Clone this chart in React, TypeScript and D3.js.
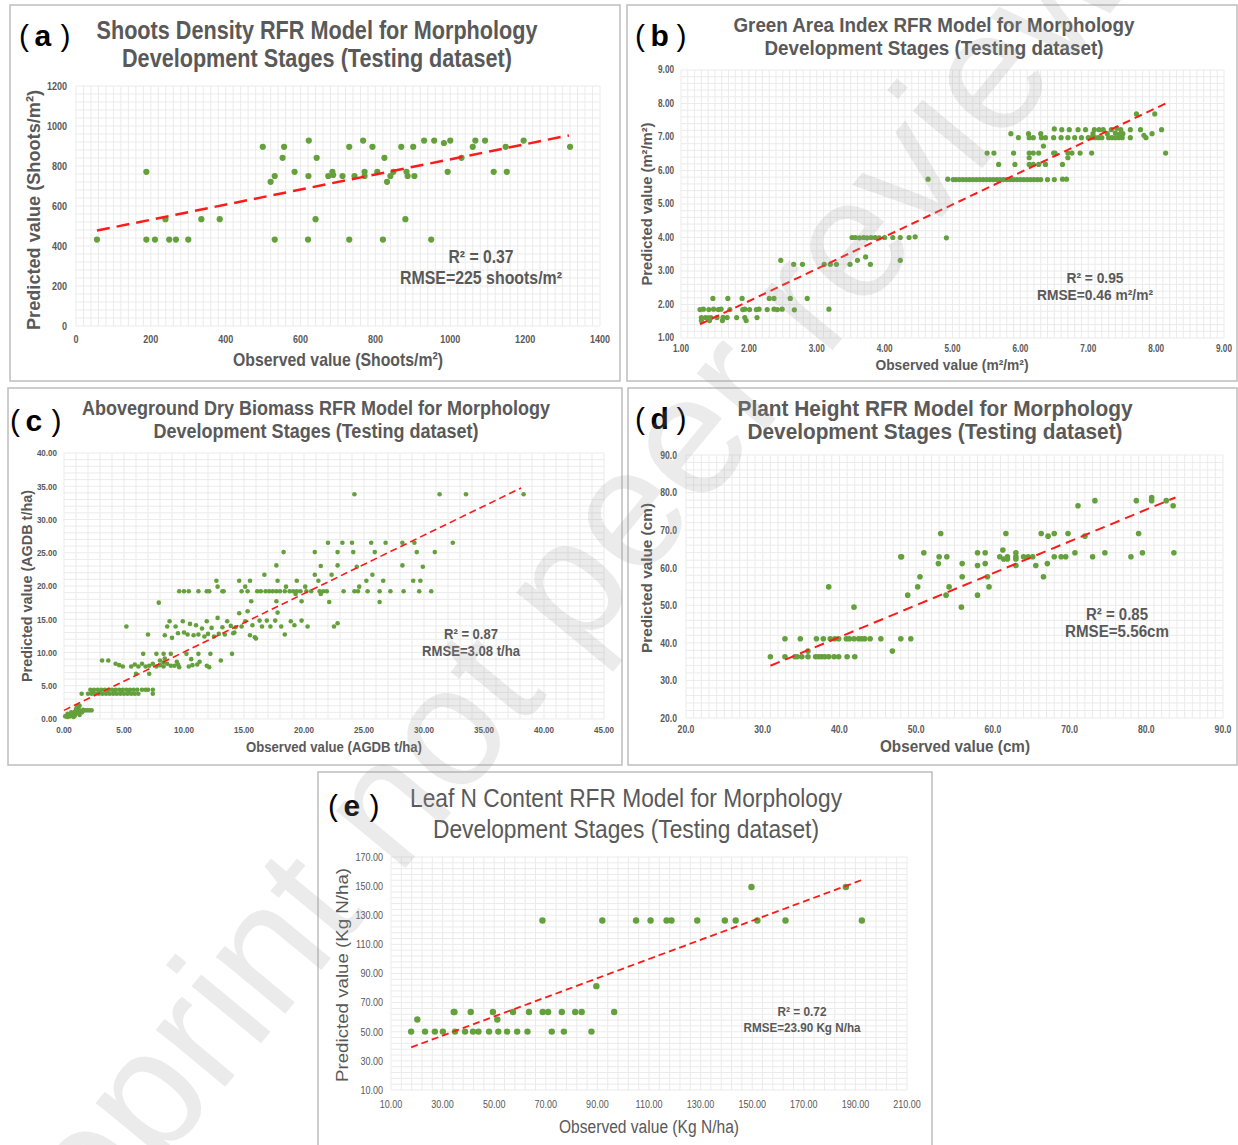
import React from 'react';
import * as d3 from 'd3';

type Pt = [number, number];

// (a) shoots density, observed vs predicted
const shootsPts: Pt[] = [
  [56, 432], [188, 771], [188, 432], [211, 432], [239, 534], [249, 432], [267, 432], [300, 432],
  [335, 534], [384, 534], [499, 896], [520, 721], [531, 750], [531, 432], [552, 841], [556, 896],
  [584, 771], [621, 750], [622, 927], [620, 432], [640, 534], [643, 841], [674, 750], [685, 771],
  [687, 755], [712, 750], [730, 896], [730, 432], [744, 750], [767, 927], [771, 771], [771, 750],
  [792, 896], [805, 771], [820, 432], [824, 841], [831, 721], [840, 750], [848, 771], [869, 896],
  [880, 534], [883, 771], [886, 750], [901, 896], [904, 750], [930, 927], [949, 432], [957, 927],
  [983, 915], [993, 771], [1000, 927], [1030, 841], [1060, 896], [1067, 927], [1093, 927],
  [1116, 771], [1148, 896], [1151, 771], [1196, 927], [1320, 896],
];
const shootsTrend: Pt[] = [[56, 477], [1317, 953]];
const shootsXTicks = [0, 200, 400, 600, 800, 1000, 1200, 1400];
const shootsYTicks = [0, 200, 400, 600, 800, 1000, 1200];

// (b) green area index
const gaiPts: Pt[] = [
  [1.28, 1.85], [1.33, 1.86], [1.41, 1.85], [1.48, 1.86], [1.55, 1.85], [1.59, 1.86], [1.72, 1.85],
  [1.91, 1.85], [1.94, 1.86], [2.01, 1.85], [2.11, 1.85], [2.15, 1.86], [2.27, 1.85], [2.37, 1.86],
  [2.42, 1.85], [2.49, 1.86], [2.67, 1.84], [3.18, 1.86],
  [1.30, 1.61], [1.36, 1.61], [1.44, 1.61], [1.53, 1.61], [1.68, 1.61], [1.82, 1.61], [1.94, 1.61],
  [2.12, 1.61], [1.40, 1.60], [1.62, 1.62],
  [1.30, 1.52], [1.42, 1.52], [1.61, 1.52], [1.96, 1.52],
  [1.47, 2.18], [1.69, 2.18], [1.90, 2.18], [2.30, 2.18], [2.37, 2.18], [2.61, 2.18], [2.86, 2.18],
  [2.47, 3.32], [4.23, 3.32], [3.60, 3.32], [2.66, 3.20], [2.79, 3.20], [3.11, 3.20], [3.20, 3.20],
  [3.29, 3.20], [3.49, 3.20], [3.79, 3.20], [3.72, 3.42],
  [3.52, 4.0], [3.57, 4.0], [3.63, 3.99], [3.69, 4.0], [3.74, 3.99], [3.80, 4.0], [3.86, 4.0],
  [3.92, 3.99], [4.00, 4.0], [4.12, 4.0], [4.23, 4.0], [4.36, 4.0], [4.45, 4.02], [4.91, 3.99],
  [4.64, 5.74], [4.93, 5.74], [5.01, 5.73], [5.05, 5.73], [5.10, 5.73], [5.15, 5.73], [5.20, 5.73],
  [5.25, 5.73], [5.30, 5.73], [5.35, 5.73], [5.40, 5.73], [5.45, 5.73], [5.50, 5.73], [5.55, 5.73],
  [5.60, 5.73], [5.65, 5.73], [5.70, 5.73], [5.75, 5.73], [5.80, 5.73], [5.85, 5.73], [5.90, 5.73],
  [5.95, 5.73], [6.00, 5.73], [6.05, 5.73], [6.10, 5.73], [6.15, 5.73], [6.20, 5.73], [6.25, 5.73],
  [6.30, 5.73], [6.40, 5.73], [6.50, 5.73], [6.62, 5.74], [6.68, 5.74],
  [5.68, 6.18], [5.92, 6.18], [6.13, 6.18], [6.19, 6.18], [6.27, 6.18], [6.37, 6.18], [6.62, 6.18],
  [5.51, 6.52], [5.61, 6.52], [5.90, 6.52], [6.13, 6.52], [6.19, 6.52], [6.27, 6.52], [6.49, 6.52],
  [6.51, 6.52], [6.70, 6.52], [6.76, 6.52], [6.88, 6.52], [7.05, 6.52], [8.14, 6.52],
  [6.13, 6.38], [6.70, 6.38], [6.34, 6.73],
  [5.97, 6.98], [6.13, 6.98], [6.19, 6.98], [6.31, 6.98], [6.37, 6.98], [6.49, 6.98], [6.60, 6.98],
  [6.70, 6.98], [6.80, 6.98], [6.90, 6.98], [7.00, 6.98], [7.05, 6.98], [7.10, 6.98], [7.15, 6.98],
  [7.20, 6.98], [7.30, 6.98], [7.35, 6.98], [7.40, 6.98], [7.45, 6.98], [7.50, 6.98], [7.62, 6.98],
  [7.85, 6.98], [7.82, 7.05],
  [5.86, 7.10], [6.12, 7.10], [6.30, 7.10], [7.07, 7.10], [7.28, 7.10], [7.51, 7.10], [7.94, 7.10],
  [7.40, 7.12], [7.46, 7.08],
  [6.50, 7.24], [6.61, 7.22], [6.72, 7.22], [6.85, 7.22], [6.96, 7.22], [7.09, 7.22], [7.16, 7.22],
  [7.22, 7.22], [7.34, 7.22], [7.48, 7.22], [7.62, 7.22], [7.77, 7.22], [8.08, 7.22], [7.42, 7.26],
  [7.71, 7.69], [7.98, 7.69],
];
const gaiTrend: Pt[] = [[1.28, 1.41], [8.15, 8.01]];
const gaiTicks = [1, 2, 3, 4, 5, 6, 7, 8, 9];

// (c) aboveground dry biomass
const agdbPts: Pt[] = [
  [0.1, 0.4], [0.2, 0.5], [0.3, 0.3], [0.4, 0.6], [0.5, 0.4], [0.6, 0.7], [0.7, 0.5], [0.8, 0.9],
  [0.9, 1.1], [1.0, 0.8], [1.1, 1.3], [1.2, 1.6], [1.3, 2.0], [1.1, 1.9], [1.4, 1.2], [1.5, 1.0],
  [1.6, 1.4], [1.7, 1.3], [1.9, 1.3], [2.1, 1.3], [2.3, 1.3], [0.9, 0.5], [1.2, 0.9], [1.0, 1.5],
  [0.6, 1.0], [0.3, 0.8], [1.3, 0.6], [0.8, 0.3], [1.47, 3.8],
  [2.0, 3.8], [2.3, 3.8], [2.6, 3.8], [2.9, 3.8], [3.2, 3.8], [3.5, 3.8], [3.8, 3.8], [4.1, 3.8],
  [4.4, 3.8], [4.7, 3.8], [5.0, 3.8], [5.3, 3.8], [5.6, 3.8], [5.9, 3.8], [6.2, 3.8], [7.4, 3.8],
  [2.2, 4.4], [2.5, 4.4], [2.8, 4.4], [3.1, 4.4], [3.4, 4.4], [3.7, 4.4], [4.0, 4.4], [4.3, 4.4],
  [4.6, 4.4], [4.9, 4.4], [5.2, 4.4], [5.5, 4.4], [5.8, 4.4], [6.1, 4.4], [6.5, 4.4], [6.8, 4.4],
  [7.0, 4.4], [7.4, 4.4], [2.4, 4.1], [3.0, 4.1], [3.6, 4.1], [4.2, 4.1], [4.8, 4.1], [5.4, 4.1],
  [3.17, 8.8], [3.69, 8.8], [13.07, 8.8],
  [4.3, 8.3], [4.6, 8.1], [4.9, 7.9], [5.6, 7.9], [5.9, 8.2], [6.2, 7.9], [6.5, 8.3], [6.8, 7.9],
  [7.1, 8.0], [7.4, 8.3], [7.7, 7.9], [8.0, 8.1], [8.3, 7.9], [8.6, 8.3], [8.9, 8.0], [9.2, 8.0],
  [9.5, 8.2], [10.4, 7.9], [10.7, 8.1], [11.1, 8.2], [11.9, 8.0], [12.1, 7.8], [6.0, 6.8], [7.1, 6.8],
  [8.0, 8.8], [8.3, 8.5], [9.4, 8.6], [9.6, 7.8],
  [6.6, 9.8], [7.7, 9.8], [8.4, 9.1], [8.3, 9.8], [8.9, 9.8], [10.2, 9.8], [11.2, 9.8], [12.2, 9.8],
  [14.0, 9.8], [10.6, 9.0], [11.3, 8.6],
  [5.2, 13.9], [7.0, 12.7], [7.9, 17.5],
  [8.4, 12.6], [8.6, 13.9], [8.8, 14.7], [9.0, 12.2], [9.3, 13.9], [9.5, 12.9], [9.9, 14.7],
  [10.0, 13.0], [10.3, 12.7], [10.5, 14.3], [10.8, 12.6], [11.0, 14.1], [11.2, 12.7], [11.5, 13.6],
  [11.7, 12.4], [11.9, 14.7], [12.0, 12.8], [12.3, 13.7], [12.5, 12.4], [12.8, 15.2], [12.9, 12.8],
  [13.2, 13.8], [13.4, 12.7], [13.6, 14.7], [13.9, 14.0], [14.1, 12.9], [14.3, 13.8], [14.6, 15.9],
  [14.8, 13.9], [15.1, 14.7], [15.3, 16.2], [15.5, 12.6], [15.7, 14.1], [16.0, 12.1], [16.3, 14.8],
  [16.5, 13.9], [16.9, 14.8], [17.2, 13.9], [17.6, 14.8], [17.8, 16.0], [18.1, 13.9], [18.4, 12.7],
  [18.9, 14.7], [19.2, 14.1], [19.8, 14.8], [20.3, 13.9], [22.5, 13.9], [22.8, 14.4], [14.2, 13.0],
  [15.9, 12.3],
  [9.6, 19.2], [10.0, 19.2], [10.4, 19.2], [11.2, 19.2], [11.9, 19.2], [12.1, 19.2], [13.3, 19.2],
  [14.8, 19.2], [15.3, 19.2], [16.1, 19.2], [16.4, 19.2], [16.8, 19.2], [17.1, 19.2], [17.4, 19.2],
  [17.7, 19.2], [18.0, 19.2], [18.4, 19.2], [18.8, 19.2], [19.1, 19.2], [19.4, 19.2], [19.7, 19.2],
  [20.2, 19.2], [20.6, 19.2], [21.3, 19.2], [21.6, 19.2], [21.9, 19.2], [23.3, 19.2], [24.2, 19.2],
  [24.5, 19.2], [25.3, 19.2], [26.3, 19.2], [27.2, 19.2], [28.3, 19.2], [29.6, 19.2], [30.6, 19.2],
  [12.8, 19.9], [15.1, 19.9], [18.5, 19.9], [19.3, 18.8], [20.1, 19.9], [21.4, 18.8], [24.6, 19.9],
  [15.6, 17.7], [17.7, 17.7], [19.8, 17.7], [22.1, 17.6], [26.3, 17.6],
  [12.7, 20.8], [14.6, 20.8], [15.5, 20.8], [17.8, 20.8], [19.4, 20.8], [21.2, 20.8], [25.2, 20.8],
  [26.6, 20.8], [29.1, 20.8], [29.7, 20.8], [13.2, 19.2],
  [16.7, 21.7], [20.9, 21.7], [22.3, 21.7], [25.7, 21.7],
  [17.7, 23.1], [21.4, 23.0], [22.8, 23.1], [24.4, 22.9], [28.2, 23.1], [29.9, 22.9],
  [18.3, 25.1], [20.9, 25.1], [22.8, 25.1], [24.1, 25.1], [25.9, 25.1], [29.4, 25.1], [30.9, 25.1],
  [22.0, 26.5], [23.2, 26.5], [24.0, 26.5], [25.6, 26.5], [26.8, 26.5], [28.2, 26.5], [29.2, 26.5],
  [32.4, 26.5],
  [24.2, 33.8], [31.3, 33.8], [33.5, 33.8], [38.3, 33.8],
];
const agdbTrend: Pt[] = [[0, 1.3], [38.1, 34.75]];
const agdbXTicks = [0, 5, 10, 15, 20, 25, 30, 35, 40, 45];
const agdbYTicks = [0, 5, 10, 15, 20, 25, 30, 35, 40];

// (d) plant height
const heightPts: Pt[] = [
  [31.0, 36.3], [32.9, 36.3], [34.2, 36.3], [34.5, 36.3], [35.1, 36.3], [35.9, 36.3], [36.9, 36.3],
  [37.3, 36.3], [37.7, 36.3], [38.1, 36.3], [38.6, 36.3], [39.3, 36.3], [39.9, 36.3], [41.0, 36.3],
  [42.0, 36.3], [35.9, 37.8], [46.9, 37.8],
  [32.9, 41.1], [34.9, 41.1], [37.0, 41.1], [37.9, 41.1], [38.8, 41.1], [39.4, 41.1], [39.9, 41.1],
  [40.9, 41.1], [41.3, 41.1], [41.9, 41.1], [42.5, 41.1], [42.9, 41.1], [43.3, 41.1], [44.0, 41.1],
  [45.4, 41.1], [48.0, 41.1], [49.3, 41.1],
  [38.6, 54.9], [50.2, 54.9], [54.3, 54.9], [59.5, 54.9], [41.9, 49.5], [55.9, 49.5],
  [48.9, 52.7], [53.9, 52.7], [58.0, 52.7], [50.5, 57.6], [56.0, 57.6], [59.3, 57.6], [66.6, 57.6],
  [52.9, 61.1], [56.0, 61.1], [59.0, 61.1], [67.1, 61.1], [58.0, 60.6], [63.0, 60.6], [65.6, 60.6],
  [48.0, 62.9], [48.1, 62.9], [53.0, 62.9], [54.0, 62.9], [60.9, 62.9], [61.9, 62.9], [63.0, 62.9],
  [64.0, 62.9], [64.6, 62.9], [65.2, 62.9], [68.0, 62.9], [68.9, 62.9], [69.5, 62.9], [73.0, 62.9],
  [78.0, 62.9], [61.4, 62.3], [61.9, 62.3], [63.0, 62.3],
  [51.0, 64.0], [58.0, 64.0], [59.0, 64.0], [63.0, 64.0], [70.7, 64.0], [74.6, 64.0], [79.5, 64.0],
  [83.6, 64.0], [61.3, 64.7],
  [53.2, 69.1], [61.7, 69.1], [66.3, 69.1], [68.0, 69.1], [69.8, 69.1], [79.0, 69.1],
  [67.2, 68.4], [72.0, 68.4], [71.1, 76.5], [83.5, 76.5],
  [73.3, 77.85], [78.7, 77.85], [80.7, 77.85], [82.6, 77.85], [80.7, 78.7],
];
const heightTrend: Pt[] = [[31.0, 33.9], [83.8, 78.7]];
const heightXTicks = [20, 30, 40, 50, 60, 70, 80, 90];
const heightYTicks = [20, 30, 40, 50, 60, 70, 80, 90];

// (e) leaf N content
const leafNPts: Pt[] = [
  [17.8, 50.1], [23.2, 50.1], [27.0, 50.1], [30.1, 50.1], [34.8, 50.1], [38.7, 50.1], [41.8, 50.1],
  [43.9, 50.1], [48.0, 50.1], [51.6, 50.1], [55.0, 50.1], [58.9, 50.1], [62.9, 50.1], [72.3, 50.1],
  [77.0, 50.1], [87.7, 50.1],
  [20.2, 58.4], [51.2, 58.4],
  [34.3, 63.6], [34.6, 63.6], [40.9, 63.6], [49.5, 63.6], [57.3, 63.6], [63.5, 63.6], [68.8, 63.6],
  [70.9, 63.6], [76.2, 63.6], [81.4, 63.6], [83.9, 63.6], [96.5, 63.6],
  [89.6, 81.3],
  [68.7, 126.4], [91.9, 126.4], [105.0, 126.4], [110.6, 126.4], [116.8, 126.4], [118.7, 126.4],
  [128.7, 126.4], [139.4, 126.4], [143.6, 126.4], [152.0, 126.4], [162.9, 126.4], [192.5, 126.4],
  [149.7, 149.4], [186.3, 149.4],
];
const leafNTrend: Pt[] = [[17.8, 39.3], [192.8, 154.4]];
const leafNXTicks = [10, 30, 50, 70, 90, 110, 130, 150, 170, 190, 210];
const leafNYTicks = [10, 30, 50, 70, 90, 110, 130, 150, 170];

const GRAY = '#595959';
const FONT = "'Liberation Sans', Arial, sans-serif";
const NARROW = 0.82;

// text helper: either fitted to a width (len) or squeezed to look like a narrow face
const NText = ({ x, y, size, weight = 'bold', anchor = 'middle', rotate = 0, fill = GRAY, len, children }: any) => (
  <text
    transform={`translate(${x},${y})${rotate ? ` rotate(${rotate})` : ''}${len ? '' : ` scale(${NARROW},1)`}`}
    textAnchor={anchor}
    dominantBaseline="central"
    fontSize={size}
    fontWeight={weight}
    fill={fill}
    fontFamily={FONT}
    textLength={len}
    lengthAdjust={len ? 'spacingAndGlyphs' : undefined}
  >
    {children}
  </text>
);

function Panel({ c }: { c: any }) {
  const [pl, pt, pr, pb] = c.plot;
  const x = d3.scaleLinear().domain(c.xDomain).range([pl, pr]);
  const y = d3.scaleLinear().domain(c.yDomain).range([pb, pt]);
  const xMinor = d3.range(c.xDomain[0], c.xDomain[1] + c.xStep / 2, c.xStep);
  const yMinor = d3.range(c.yDomain[0], c.yDomain[1] + c.yStep / 2, c.yStep);
  const line = d3.line<Pt>().x(d => x(d[0])).y(d => y(d[1]));
  const fmt = d3.format(c.fmt);
  const [fx, fy, fw, fh] = c.frame;
  const L = c.letter;
  return (
    <g>
      <rect x={fx} y={fy} width={fw} height={fh} fill="#fff" stroke="#bdbdbd" strokeWidth={1.5} />
      {xMinor.map((v, i) => (
        <line key={'gx' + i} x1={x(v)} x2={x(v)} y1={pt} y2={pb} stroke="#ebebeb" strokeWidth={1} />
      ))}
      {yMinor.map((v, i) => (
        <line key={'gy' + i} x1={pl} x2={pr} y1={y(v)} y2={y(v)} stroke="#ebebeb" strokeWidth={1} />
      ))}
      {c.yTicks.map((v: number) => (
        <NText key={'ty' + v} x={c.yLabelX} y={y(v)} size={c.tickSize} weight={c.tickWeight} anchor="end">
          {fmt(v)}
        </NText>
      ))}
      {c.xTicks.map((v: number) => (
        <NText key={'tx' + v} x={x(v)} y={c.xLabelY} size={c.tickSize} weight={c.tickWeight}>
          {fmt(v)}
        </NText>
      ))}
      {c.points.map((p: Pt, i: number) => (
        <circle key={'p' + i} cx={x(p[0])} cy={y(p[1])} r={c.r} fill="#64a03c" />
      ))}
      <path d={line(c.trend) || ''} fill="none" stroke="#ff1a1a" strokeWidth={c.trendW} strokeDasharray={c.dash} />
      <text y={L[2]} dominantBaseline="central" fontFamily={FONT} fontSize={L[4]} fill="#000">
        <tspan x={L[1]}>(</tspan>
        <tspan x={L[1] + L[4] * 0.52} fontWeight="bold">{L[0]}</tspan>
        <tspan x={L[1] + L[4] * 1.38}>)</tspan>
      </text>
      {c.title.map((t: string, i: number) => (
        <NText key={'t' + i} x={c.titleX} y={c.titleY[i]} size={c.titleSize} weight={c.titleWeight} len={c.titleLen[i]}>
          {t}
        </NText>
      ))}
      <NText x={c.yTitle[1]} y={c.yTitle[2]} size={c.yTitle[3]} weight={c.axisWeight} rotate={-90} len={c.yTitle[4]}>
        {c.yTitle[0]}
      </NText>
      <NText x={c.xTitle[1]} y={c.xTitle[2]} size={c.xTitle[3]} weight={c.axisWeight} len={c.xTitle[4]}>
        {c.xTitle[0]}
      </NText>
      {c.stats.map((s: string, i: number) => (
        <NText key={'s' + i} x={c.statsX} y={c.statsY[i]} size={c.statsSize} weight={c.statsWeight} len={c.statsLen[i]}>
          {s}
        </NText>
      ))}
    </g>
  );
}

const panels = [
  {
    frame: [10, 5, 610, 376], plot: [76, 86, 600, 326],
    xDomain: [0, 1400], yDomain: [0, 1200], xStep: 20, yStep: 40,
    xTicks: shootsXTicks, yTicks: shootsYTicks, fmt: 'd',
    tickSize: 11, tickWeight: 'bold', yLabelX: 67, xLabelY: 339,
    points: shootsPts, trend: shootsTrend, r: 3.1, trendW: 2.5, dash: '13 7',
    letter: ['a', 19, 35, 0, 30],
    title: ['Shoots Density RFR Model for Morphology', 'Development Stages (Testing dataset)'],
    titleX: 317, titleY: [30, 58], titleSize: 25, titleWeight: 'bold', titleLen: [441, 390],
    yTitle: ['Predicted value (Shoots/m²)', 33, 210, 19, 240], xTitle: ['Observed value (Shoots/m²)', 338, 359, 19, 210],
    axisWeight: 'bold',
    stats: ['R² = 0.37', 'RMSE=225 shoots/m²'], statsX: 481, statsY: [257, 278], statsSize: 18, statsWeight: 'bold',
    statsLen: [65, 162],
  },
  {
    frame: [627, 5, 610, 376], plot: [681, 70, 1224, 338],
    xDomain: [1, 9], yDomain: [1, 9], xStep: 0.1, yStep: 0.2,
    xTicks: gaiTicks, yTicks: gaiTicks, fmt: '.2f',
    tickSize: 10, tickWeight: 'bold', yLabelX: 674, xLabelY: 349,
    points: gaiPts, trend: gaiTrend, r: 2.6, trendW: 2, dash: '8 5',
    letter: ['b', 635, 35, 0, 30],
    title: ['Green Area Index RFR Model for Morphology', 'Development Stages (Testing dataset)'],
    titleX: 934, titleY: [24, 47], titleSize: 21, titleWeight: 'bold', titleLen: [401, 339],
    yTitle: ['Predicted value (m²/m²)', 647, 204, 14, 163], xTitle: ['Observed value (m²/m²)', 952, 365, 14, 153],
    axisWeight: 'bold',
    stats: ['R² = 0.95', 'RMSE=0.46 m²/m²'], statsX: 1095, statsY: [278, 295], statsSize: 14, statsWeight: 'bold',
    statsLen: [57, 116],
  },
  {
    frame: [8, 388, 614, 377], plot: [64, 453, 604, 719],
    xDomain: [0, 45], yDomain: [0, 40], xStep: 1, yStep: 1,
    xTicks: agdbXTicks, yTicks: agdbYTicks, fmt: '.2f',
    tickSize: 9.8, tickWeight: 'bold', yLabelX: 57, xLabelY: 730,
    points: agdbPts, trend: agdbTrend, r: 2.3, trendW: 1.6, dash: '7 4',
    letter: ['c', 10, 420, 0, 30],
    title: ['Aboveground Dry Biomass RFR Model for Morphology', 'Development Stages (Testing dataset)'],
    titleX: 316, titleY: [408, 431], titleSize: 20, titleWeight: 'bold', titleLen: [468, 325],
    yTitle: ['Predicted value (AGDB t/ha)', 27, 586, 14, 192], xTitle: ['Observed value (AGDB t/ha)', 334, 746, 15, 176],
    axisWeight: 'bold',
    stats: ['R² = 0.87', 'RMSE=3.08 t/ha'], statsX: 471, statsY: [634, 651], statsSize: 14, statsWeight: 'bold',
    statsLen: [54, 98],
  },
  {
    frame: [628, 388, 609, 377], plot: [686, 455, 1223, 718],
    xDomain: [20, 90], yDomain: [20, 90], xStep: 1, yStep: 2,
    xTicks: heightXTicks, yTicks: heightYTicks, fmt: '.1f',
    tickSize: 10.5, tickWeight: 'bold', yLabelX: 677, xLabelY: 729,
    points: heightPts, trend: heightTrend, r: 2.8, trendW: 2, dash: '10 6',
    letter: ['d', 635, 418, 0, 30],
    title: ['Plant Height RFR Model for Morphology', 'Development Stages (Testing dataset)'],
    titleX: 935, titleY: [408, 431], titleSize: 22, titleWeight: 'bold', titleLen: [395, 375],
    yTitle: ['Predicted value (cm)', 647, 578, 14, 150], xTitle: ['Observed value (cm)', 955, 746, 16, 150],
    axisWeight: 'bold',
    stats: ['R² = 0.85', 'RMSE=5.56cm'], statsX: 1117, statsY: [614, 631], statsSize: 16, statsWeight: 'bold',
    statsLen: [62, 104],
  },
  {
    frame: [318, 772, 614, 380], plot: [391, 857, 907, 1090],
    xDomain: [10, 210], yDomain: [10, 170], xStep: 4, yStep: 4,
    xTicks: leafNXTicks, yTicks: leafNYTicks, fmt: '.2f',
    tickSize: 11, tickWeight: 'normal', yLabelX: 383, xLabelY: 1104,
    points: leafNPts, trend: leafNTrend, r: 3.2, trendW: 1.8, dash: '7 4',
    letter: ['e', 328, 805, 0, 30],
    title: ['Leaf N Content RFR Model for Morphology', 'Development Stages (Testing dataset)'],
    titleX: 626, titleY: [798, 829], titleSize: 26, titleWeight: 'normal', titleLen: [432, 386],
    yTitle: ['Predicted value (Kg N/ha)', 342, 975, 17, 214], xTitle: ['Observed value (Kg N/ha)', 649, 1127, 18, 180],
    axisWeight: 'normal',
    stats: ['R² = 0.72', 'RMSE=23.90 Kg N/ha'], statsX: 802, statsY: [1011, 1027], statsSize: 13, statsWeight: 'bold',
    statsLen: [49, 117],
  },
];

export default function App() {
  return (
    <div style={{ position: 'absolute', left: 0, top: 0 }}>
      <svg width={1238} height={1145} style={{ display: 'block', background: '#fff' }}>
        {panels.map((c, i) => (
          <Panel key={i} c={c} />
        ))}
        <text
          transform="translate(578,566) rotate(-50.5)"
          textAnchor="middle"
          dominantBaseline="central"
          fontFamily={FONT}
          fontSize={170}
          fill="#9a9a9a"
          fillOpacity={0.2}
        >
          Preprint not peer reviewed
        </text>
      </svg>
    </div>
  );
}
